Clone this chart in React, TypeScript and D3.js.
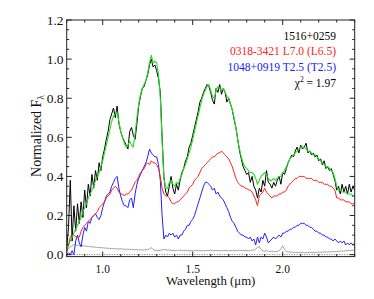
import React from "react";
import * as d3 from "d3";

const wavelengths = [
  0.80,0.81,0.82,0.83,0.84,0.85,0.86,0.87,0.88,0.89,
  0.90,0.91,0.92,0.93,0.94,0.95,0.96,0.97,0.98,0.99,
  1.00,1.01,1.02,1.03,1.04,1.05,1.06,1.07,1.08,1.09,
  1.10,1.11,1.12,1.13,1.14,1.15,1.16,1.17,1.18,1.19,
  1.20,1.21,1.22,1.23,1.24,1.25,1.26,1.27,1.28,1.29,
  1.30,1.31,1.32,1.33,1.34,1.35,1.36,1.37,1.38,1.39,
  1.40,1.41,1.42,1.43,1.44,1.45,1.46,1.47,1.48,1.49,
  1.50,1.51,1.52,1.53,1.54,1.55,1.56,1.57,1.58,1.59,
  1.60,1.61,1.62,1.63,1.64,1.65,1.66,1.67,1.68,1.69,
  1.70,1.71,1.72,1.73,1.74,1.75,1.76,1.77,1.78,1.79,
  1.80,1.81,1.82,1.83,1.84,1.85,1.86,1.87,1.88,1.89,
  1.90,1.91,1.92,1.93,1.94,1.95,1.96,1.97,1.98,1.99,
  2.00,2.01,2.02,2.03,2.04,2.05,2.06,2.07,2.08,2.09,
  2.10,2.11,2.12,2.13,2.14,2.15,2.16,2.17,2.18,2.19,
  2.20,2.21,2.22,2.23,2.24,2.25,2.26,2.27,2.28,2.29,
  2.30,2.31,2.32,2.33,2.34,2.35,2.36,2.37,2.38,2.39,
  2.40,
];

// 1516+0259 (observed, black)
const target = [
  0.03,0.14,0.38,0.07,0.25,0.12,0.26,0.16,0.27,0.19,
  0.33,0.24,0.36,0.30,0.41,0.34,0.43,0.38,0.47,0.43,
  0.50,0.54,0.59,0.63,0.69,0.72,0.75,0.70,0.76,0.67,
  0.63,0.60,0.58,0.56,0.54,0.63,0.65,0.61,0.59,0.67,
  0.76,0.81,0.85,0.86,0.89,0.92,0.97,1.00,0.96,0.97,
  0.94,0.90,0.83,0.60,0.40,0.32,0.30,0.35,0.40,0.34,
  0.31,0.36,0.33,0.38,0.42,0.44,0.48,0.50,0.55,0.57,
  0.61,0.65,0.69,0.73,0.78,0.80,0.83,0.85,0.87,0.86,
  0.83,0.79,0.77,0.85,0.83,0.87,0.82,0.85,0.83,0.78,
  0.80,0.77,0.74,0.69,0.65,0.59,0.53,0.49,0.45,0.43,
  0.41,0.42,0.37,0.40,0.35,0.33,0.29,0.34,0.32,0.38,
  0.35,0.43,0.37,0.36,0.34,0.37,0.35,0.38,0.40,0.36,
  0.42,0.41,0.44,0.47,0.49,0.51,0.50,0.53,0.55,0.52,
  0.56,0.54,0.55,0.57,0.52,0.53,0.51,0.52,0.50,0.51,
  0.48,0.49,0.46,0.48,0.44,0.45,0.43,0.44,0.41,0.38,
  0.33,0.35,0.31,0.36,0.32,0.35,0.31,0.36,0.32,0.35,
  0.33,
];

// composite fit (green)
const composite = [
  0.03,0.05,0.07,0.09,0.11,0.13,0.15,0.17,0.19,0.22,
  0.24,0.26,0.29,0.31,0.33,0.35,0.38,0.40,0.42,0.45,
  0.48,0.52,0.56,0.60,0.64,0.68,0.71,0.72,0.73,0.68,
  0.63,0.60,0.57,0.55,0.56,0.58,0.56,0.55,0.62,0.70,
  0.77,0.82,0.85,0.87,0.89,0.93,0.98,1.02,0.98,0.99,
  0.98,0.92,0.80,0.58,0.39,0.34,0.34,0.37,0.38,0.36,
  0.35,0.37,0.36,0.39,0.41,0.44,0.46,0.49,0.52,0.55,
  0.59,0.63,0.67,0.71,0.75,0.79,0.82,0.84,0.86,0.87,
  0.84,0.81,0.80,0.84,0.86,0.85,0.84,0.85,0.83,0.81,
  0.80,0.77,0.74,0.70,0.65,0.59,0.54,0.50,0.47,0.45,
  0.44,0.43,0.42,0.42,0.41,0.39,0.36,0.38,0.40,0.41,
  0.42,0.41,0.39,0.38,0.38,0.39,0.38,0.39,0.40,0.40,
  0.42,0.43,0.45,0.47,0.49,0.50,0.51,0.52,0.53,0.54,
  0.55,0.55,0.55,0.54,0.53,0.53,0.52,0.51,0.51,0.50,
  0.49,0.48,0.47,0.46,0.45,0.45,0.44,0.43,0.42,0.39,
  0.35,0.33,0.33,0.32,0.32,0.32,0.31,0.31,0.31,0.30,
  0.30,
];

// 0318-3421 L7.0 (red)
const primary = [
  0.01,0.05,0.09,0.10,0.10,0.09,0.09,0.09,0.12,0.14,
  0.15,0.16,0.17,0.18,0.19,0.20,0.21,0.22,0.24,0.25,
  0.26,0.27,0.29,0.30,0.31,0.33,0.34,0.35,0.34,0.32,
  0.31,0.31,0.30,0.31,0.31,0.32,0.33,0.35,0.37,0.38,
  0.40,0.42,0.43,0.44,0.46,0.47,0.46,0.48,0.47,0.47,
  0.46,0.44,0.40,0.34,0.31,0.30,0.30,0.29,0.27,0.26,
  0.26,0.27,0.27,0.28,0.29,0.30,0.31,0.32,0.34,0.35,
  0.36,0.38,0.39,0.40,0.42,0.44,0.45,0.46,0.47,0.48,
  0.49,0.50,0.50,0.51,0.52,0.52,0.53,0.52,0.51,0.50,
  0.49,0.47,0.45,0.42,0.39,0.37,0.36,0.35,0.35,0.34,
  0.34,0.33,0.33,0.32,0.30,0.28,0.25,0.30,0.31,0.32,
  0.34,0.32,0.31,0.30,0.29,0.30,0.30,0.30,0.31,0.31,
  0.32,0.32,0.33,0.35,0.36,0.37,0.38,0.39,0.39,0.40,
  0.40,0.40,0.40,0.39,0.39,0.39,0.39,0.38,0.38,0.38,
  0.37,0.37,0.37,0.36,0.36,0.36,0.35,0.35,0.34,0.33,
  0.29,0.29,0.28,0.28,0.28,0.27,0.27,0.27,0.26,0.26,
  0.26,
];

// 1048+0919 T2.5 (blue)
const secondary = [
  0.00,0.01,0.00,0.02,0.00,0.07,0.10,0.06,0.04,0.10,
  0.14,0.12,0.17,0.16,0.19,0.20,0.21,0.19,0.18,0.20,
  0.24,0.27,0.30,0.31,0.32,0.35,0.37,0.39,0.40,0.34,
  0.30,0.27,0.25,0.25,0.24,0.28,0.29,0.24,0.31,0.36,
  0.39,0.41,0.43,0.45,0.47,0.50,0.54,0.52,0.51,0.50,
  0.50,0.46,0.38,0.20,0.08,0.10,0.09,0.11,0.10,0.11,
  0.09,0.10,0.08,0.10,0.10,0.12,0.13,0.15,0.15,0.17,
  0.18,0.20,0.23,0.26,0.29,0.32,0.35,0.37,0.37,0.36,
  0.35,0.33,0.34,0.31,0.32,0.30,0.29,0.28,0.26,0.24,
  0.22,0.19,0.17,0.16,0.14,0.12,0.11,0.10,0.10,0.09,
  0.09,0.08,0.09,0.07,0.08,0.05,0.09,0.06,0.09,0.08,
  0.11,0.09,0.06,0.07,0.08,0.09,0.08,0.09,0.10,0.09,
  0.11,0.11,0.12,0.12,0.13,0.13,0.14,0.14,0.15,0.15,
  0.16,0.16,0.16,0.15,0.15,0.14,0.14,0.13,0.12,0.12,
  0.11,0.11,0.10,0.10,0.09,0.09,0.08,0.08,0.07,0.08,
  0.07,0.06,0.07,0.06,0.07,0.05,0.06,0.05,0.06,0.05,
  0.06,
];

// noise (gray)
const noise = [
  0.020,0.030,0.040,0.045,0.050,0.050,0.048,0.047,0.045,0.046,
  0.044,0.043,0.042,0.040,0.041,0.039,0.038,0.037,0.036,0.036,
  0.035,0.034,0.033,0.033,0.032,0.031,0.031,0.030,0.030,0.029,
  0.030,0.028,0.028,0.027,0.028,0.026,0.027,0.025,0.026,0.025,
  0.024,0.025,0.024,0.024,0.025,0.026,0.030,0.036,0.026,0.022,
  0.021,0.020,0.022,0.024,0.026,0.025,0.023,0.024,0.022,0.021,
  0.020,0.021,0.022,0.023,0.021,0.022,0.020,0.021,0.020,0.019,
  0.020,0.021,0.020,0.022,0.020,0.019,0.021,0.020,0.022,0.021,
  0.023,0.021,0.020,0.022,0.020,0.019,0.021,0.020,0.022,0.020,
  0.019,0.021,0.020,0.022,0.020,0.021,0.023,0.021,0.020,0.022,
  0.020,0.019,0.021,0.022,0.024,0.028,0.038,0.042,0.026,0.020,
  0.018,0.020,0.017,0.016,0.018,0.016,0.015,0.017,0.020,0.030,
  0.045,0.025,0.016,0.014,0.013,0.012,0.012,0.011,0.012,0.011,
  0.010,0.011,0.010,0.011,0.010,0.011,0.012,0.011,0.012,0.012,
  0.013,0.012,0.013,0.014,0.013,0.014,0.015,0.014,0.016,0.015,
  0.017,0.016,0.018,0.019,0.018,0.020,0.021,0.020,0.022,0.023,
  0.025,
];

const xMajorTicks = [1.0, 1.5, 2.0];
const xTickLabels = ["1.0", "1.5", "2.0"];
const xMinorTicks = [0.8,0.9,1.1,1.2,1.3,1.4,1.6,1.7,1.8,1.9,2.1,2.2,2.3,2.4];
const yMajorTicks = [0.0, 0.2, 0.4, 0.6, 0.8, 1.0, 1.2];
const yTickLabels = ["0.0", "0.2", "0.4", "0.6", "0.8", "1.0", "1.2"];
const yMinorTicks = [0.05,0.1,0.15,0.25,0.3,0.35,0.45,0.5,0.55,0.65,0.7,0.75,0.85,0.9,0.95,1.05,1.1,1.15];

const legendLines = [
  { text: "1516+0259", color: "#000000" },
  { text: "0318-3421 L7.0 (L6.5)", color: "#ff2020" },
  { text: "1048+0919 T2.5 (T2.5)", color: "#2020ff" },
];
const chiSquared = "1.97";

const W = 374, H = 299;
const L = 66.7, R = 354.7, T = 20, B = 256.6;
const FONT = "Liberation Serif, DejaVu Serif, Times New Roman, serif";

export default function App() {
  const x = d3.scaleLinear().domain([0.8, 2.4]).range([L, R]);
  const y = d3.scaleLinear().domain([-0.01, 1.2]).range([B, T]);
  const line = (vals: number[]) =>
    d3.line<number>().x((_, i) => x(wavelengths[i])).y((d) => y(d))(vals) || "";

  const series = [
    { vals: noise, color: "#999999", w: 0.9 },
    { vals: secondary, color: "#2020ff", w: 1 },
    { vals: primary, color: "#ff2020", w: 1 },
    { vals: target, color: "#000000", w: 1 },
    { vals: composite, color: "#22dd22", w: 1.1 },
  ];
  const frame = "#222";
  const maj = 5, min = 2.5;
  const txt = { fontFamily: FONT };

  return (
    <svg width={W} height={H} style={{ position: "absolute", left: 0, top: 0, background: "#fff" }}>
      <defs>
        <clipPath id="plotclip">
          <rect x={L} y={T} width={R - L} height={B - T} />
        </clipPath>
      </defs>
      <line x1={L} x2={R} y1={y(0)} y2={y(0)} stroke="#444" strokeWidth={0.8} strokeDasharray="1,1.5" />
      <g clipPath="url(#plotclip)" fill="none">
        {series.map((s, i) => (
          <path key={i} d={line(s.vals)} stroke={s.color} strokeWidth={s.w} strokeLinejoin="round" />
        ))}
      </g>
      <rect x={L} y={T} width={R - L} height={B - T} fill="none" stroke={frame} strokeWidth={1} />
      {xMajorTicks.map((t, i) => (
        <g key={"xm" + i}>
          <line x1={x(t)} x2={x(t)} y1={B} y2={B - maj} stroke={frame} />
          <line x1={x(t)} x2={x(t)} y1={T} y2={T + maj} stroke={frame} />
          <text x={x(t)} y={273.3} fontSize={11.5} style={txt} textAnchor="middle" fill="#111">
            {xTickLabels[i]}
          </text>
        </g>
      ))}
      {xMinorTicks.map((t, i) => (
        <g key={"xn" + i}>
          <line x1={x(t)} x2={x(t)} y1={B} y2={B - min} stroke={frame} />
          <line x1={x(t)} x2={x(t)} y1={T} y2={T + min} stroke={frame} />
        </g>
      ))}
      {yMajorTicks.map((t, i) => (
        <g key={"ym" + i}>
          <line x1={L} x2={L + maj} y1={y(t)} y2={y(t)} stroke={frame} />
          <line x1={R} x2={R - maj} y1={y(t)} y2={y(t)} stroke={frame} />
          <text x={63.5} y={y(t) + 4.8} fontSize={13.5} style={txt} textAnchor="end" fill="#111">
            {yTickLabels[i]}
          </text>
        </g>
      ))}
      {yMinorTicks.map((t, i) => (
        <g key={"yn" + i}>
          <line x1={L} x2={L + min} y1={y(t)} y2={y(t)} stroke={frame} />
          <line x1={R} x2={R - min} y1={y(t)} y2={y(t)} stroke={frame} />
        </g>
      ))}
      <text x={(L + R) / 2} y={285} fontSize={12.8} style={txt} textAnchor="middle" fill="#111">
        Wavelength (μm)
      </text>
      <text
        transform={`translate(41,136) rotate(-90)`}
        fontSize={14}
        style={txt}
        textAnchor="middle"
        fill="#111"
      >
        Normalized F<tspan fontSize={9.5} dy={3}>λ</tspan>
      </text>
      {legendLines.map((l, i) => (
        <text key={"lg" + i} x={336} y={39.5 + i * 15.7} fontSize={11.5} style={txt} textAnchor="end" fill={l.color}>
          {l.text}
        </text>
      ))}
      <text x={336} y={86.6} fontSize={11.5} style={txt} textAnchor="end" fill="#000">
        χ<tspan fontSize={7.5} dy={-4.5}>2</tspan>
        <tspan dy={4.5}>{" = " + chiSquared}</tspan>
      </text>
    </svg>
  );
}
